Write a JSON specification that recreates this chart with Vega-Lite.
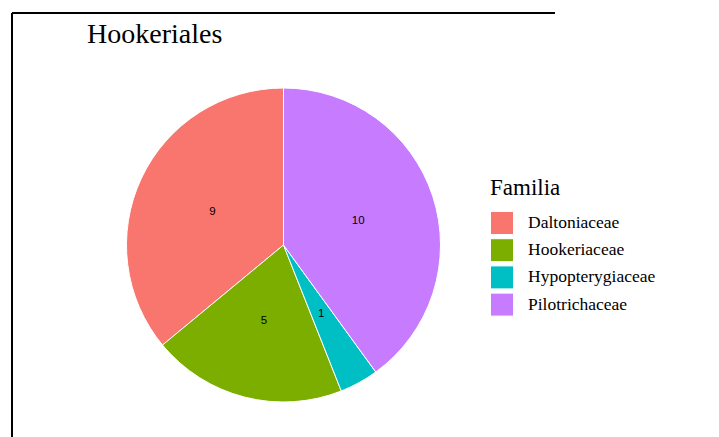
{
  "$schema": "https://vega.github.io/schema/vega-lite/v6.json",
  "width": 543,
  "height": 464,
  "autosize": {"type": "none"},
  "padding": {"left": 12, "top": 13, "right": 164, "bottom": -40},
  "background": "white",
  "view": {"stroke": "black", "strokeWidth": 2, "strokeDash": [543, 1007, 464, 0]},
  "title": {
    "text": "Hookeriales",
    "anchor": "start",
    "frame": "group",
    "font": "Liberation Serif",
    "fontSize": 28,
    "fontWeight": "normal",
    "color": "black",
    "baseline": "alphabetic",
    "offset": 0,
    "dx": 75,
    "dy": 58
  },
  "data": {
    "values": [
      {"Familia": "Daltoniaceae", "n": 9},
      {"Familia": "Hookeriaceae", "n": 5},
      {"Familia": "Hypopterygiaceae", "n": 1},
      {"Familia": "Pilotrichaceae", "n": 10}
    ]
  },
  "encoding": {
    "theta": {"field": "n", "type": "quantitative", "stack": true},
    "order": {"field": "Familia", "type": "nominal", "sort": "descending"}
  },
  "layer": [
    {
      "mark": {"type": "arc", "outerRadius": 157, "stroke": "white", "strokeWidth": 1},
      "encoding": {
        "color": {
          "field": "Familia",
          "type": "nominal",
          "scale": {
            "domain": ["Daltoniaceae", "Hookeriaceae", "Hypopterygiaceae", "Pilotrichaceae"],
            "range": ["#F8766D", "#7CAE00", "#00BFC4", "#C77CFF"]
          },
          "legend": {
            "orient": "none",
            "legendX": 478,
            "legendY": 164,
            "title": "Familia",
            "titleFont": "Liberation Serif",
            "titleFontSize": 23,
            "titleFontWeight": "normal",
            "titleColor": "black",
            "titlePadding": 11,
            "labelFont": "Liberation Serif",
            "labelFontSize": 17.5,
            "labelColor": "black",
            "labelOffset": 14,
            "symbolType": "square",
            "symbolSize": 529,
            "symbolStrokeColor": "white",
            "symbolStrokeWidth": 1,
            "symbolOpacity": 1,
            "rowPadding": -0.8
          }
        }
      }
    },
    {
      "mark": {"type": "text", "radius": 78.5, "font": "Liberation Sans", "fontSize": 11.5, "color": "black"},
      "encoding": {"text": {"field": "n", "type": "quantitative"}}
    }
  ]
}
